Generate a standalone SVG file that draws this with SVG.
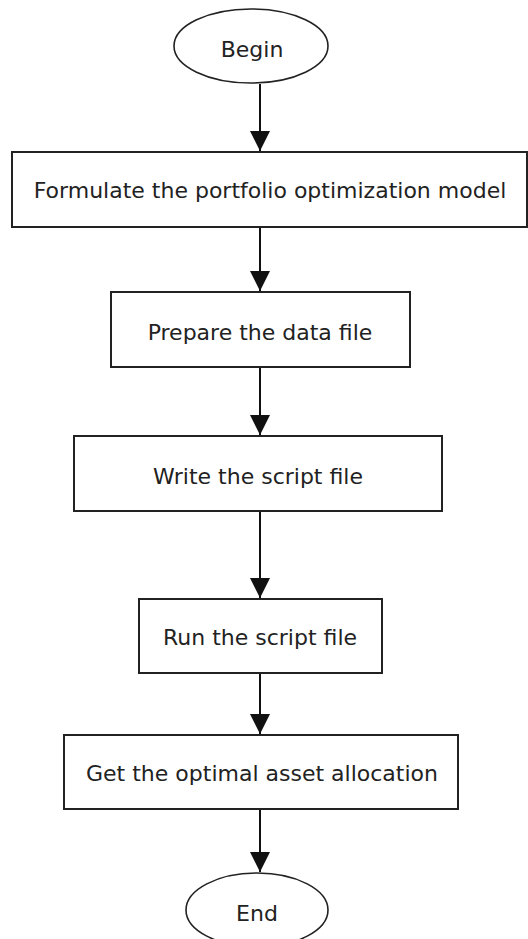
<svg xmlns="http://www.w3.org/2000/svg" width="528" height="939" viewBox="0 0 528 939">
<style>
.box{fill:#fff;stroke:#222;stroke-width:2}
.oval{fill:#fff;stroke:#222;stroke-width:1.6}
.lbl{font-family:"DejaVu Sans",Verdana,sans-serif;font-size:22px;fill:#222;text-anchor:middle}
.edge{stroke:#111;stroke-width:2;fill:none}
</style>
<defs>
<marker id="ah" viewBox="0 0 20 20" refX="20" refY="10" markerWidth="20" markerHeight="20" markerUnits="userSpaceOnUse" orient="auto">
<path d="M0,0 L20,10 L0,20 Z" fill="#111"/>
</marker>
</defs>
<rect width="528" height="939" fill="#fff"/>
<g id="connectors">
<path class="edge" d="M260,84 V151" marker-end="url(#ah)"/>
<path class="edge" d="M260,228 V291" marker-end="url(#ah)"/>
<path class="edge" d="M260,368 V435" marker-end="url(#ah)"/>
<path class="edge" d="M260,512 V598" marker-end="url(#ah)"/>
<path class="edge" d="M260,674 V734" marker-end="url(#ah)"/>
<path class="edge" d="M260,810 V872" marker-end="url(#ah)"/>
</g>
<g id="begin">
<ellipse class="oval" cx="251" cy="46" rx="77" ry="37"/>
<text class="lbl" x="252" y="57">Begin</text>
</g>
<g id="formulate">
<rect class="box" x="12" y="152" width="515" height="75"/>
<text class="lbl" x="270" y="198">Formulate the portfolio optimization model</text>
</g>
<g id="prepare">
<rect class="box" x="111" y="292" width="299" height="75"/>
<text class="lbl" x="260" y="340">Prepare the data file</text>
</g>
<g id="write">
<rect class="box" x="74" y="436" width="368" height="75"/>
<text class="lbl" x="258" y="484">Write the script file</text>
</g>
<g id="run">
<rect class="box" x="139" y="599" width="243" height="74"/>
<text class="lbl" x="260" y="645">Run the script file</text>
</g>
<g id="get">
<rect class="box" x="64" y="735" width="394" height="74"/>
<text class="lbl" x="262" y="781">Get the optimal asset allocation</text>
</g>
<g id="end">
<ellipse class="oval" cx="257" cy="910" rx="71" ry="37"/>
<text class="lbl" x="257" y="921">End</text>
</g>
</svg>
